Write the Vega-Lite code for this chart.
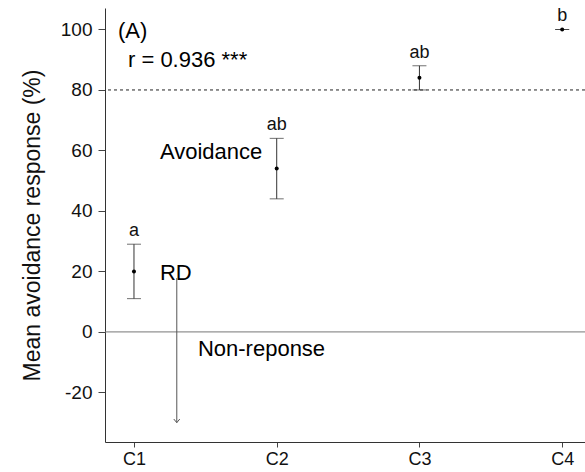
{
  "$schema": "https://vega.github.io/schema/vega-lite/v6.json",
  "autosize": "none",
  "width": 480,
  "height": 434,
  "padding": {"left": 105, "top": 8, "right": 0, "bottom": 30},
  "background": "white",
  "config": {
    "view": {"stroke": null},
    "font": "Liberation Sans",
    "axis": {"grid": false, "domainColor": "#333", "tickColor": "#444", "labelColor": "#111", "titleColor": "#111", "labelFont": "Liberation Sans", "titleFont": "Liberation Sans"}
  },
  "datasets": {
    "groups": [
      {"cond": 1, "mean": 20, "lo": 11, "hi": 29, "letter": "a"},
      {"cond": 2, "mean": 54, "lo": 44, "hi": 64, "letter": "ab"},
      {"cond": 3, "mean": 84, "lo": 80, "hi": 88, "letter": "ab"},
      {"cond": 4, "mean": 100, "lo": 100, "hi": 100, "letter": "b"}
    ],
    "notes": [
      {"x": 0.888, "y": 99.5, "label": "(A)"},
      {"x": 0.958, "y": 89.9, "label": "r = 0.936 ***"},
      {"x": 1.182, "y": 59.5, "label": "Avoidance"},
      {"x": 1.182, "y": 19.5, "label": "RD"},
      {"x": 1.448, "y": -5.6, "label": "Non-reponse"}
    ],
    "arrow": [
      {"x": 1.30, "y": 17.8, "y2": -30}
    ],
    "refs": [
      {"yval": 0, "kind": "zero"},
      {"yval": 80, "kind": "threshold"}
    ]
  },
  "layer": [
    {
      "data": {"name": "refs"},
      "transform": [{"filter": "datum.kind == 'zero'"}],
      "mark": {"type": "rule", "color": "#777", "strokeWidth": 1},
      "encoding": {"y": {"field": "yval", "type": "quantitative"}}
    },
    {
      "data": {"name": "refs"},
      "transform": [{"filter": "datum.kind == 'threshold'"}],
      "mark": {"type": "rule", "color": "#222", "strokeWidth": 1, "strokeDash": [3, 3]},
      "encoding": {"y": {"field": "yval", "type": "quantitative"}}
    },
    {
      "data": {"name": "groups"},
      "mark": {"type": "rule", "color": "#333", "strokeWidth": 1},
      "encoding": {
        "x": {"field": "cond", "type": "quantitative",
          "scale": {"domain": [0.797, 4.16], "nice": false, "zero": false},
          "axis": {"values": [1, 2, 3, 4], "labelExpr": "'C' + datum.value", "title": null, "tickSize": 5, "labelFontSize": 18, "labelPadding": 3}},
        "y": {"field": "lo", "type": "quantitative",
          "scale": {"domain": [-36.4, 107.1], "nice": false, "zero": false},
          "axis": {"values": [-20, 0, 20, 40, 60, 80, 100], "labelExpr": "datum.value < 0 ? '-' + abs(datum.value) : '' + datum.value", "title": "Mean avoidance response (%)", "titleFontSize": 23, "titleFontWeight": "normal", "titlePadding": 16, "tickSize": 7, "labelPadding": 6, "labelFontSize": 19}},
        "y2": {"field": "hi"}
      }
    },
    {
      "data": {"name": "groups"},
      "mark": {"type": "tick", "orient": "horizontal", "color": "#333", "size": 14, "thickness": 1},
      "encoding": {"x": {"field": "cond", "type": "quantitative"}, "y": {"field": "lo", "type": "quantitative"}}
    },
    {
      "data": {"name": "groups"},
      "mark": {"type": "tick", "orient": "horizontal", "color": "#333", "size": 14, "thickness": 1},
      "encoding": {"x": {"field": "cond", "type": "quantitative"}, "y": {"field": "hi", "type": "quantitative"}}
    },
    {
      "data": {"name": "groups"},
      "mark": {"type": "point", "filled": true, "color": "#000", "size": 16, "opacity": 1},
      "encoding": {"x": {"field": "cond", "type": "quantitative"}, "y": {"field": "mean", "type": "quantitative"}}
    },
    {
      "data": {"name": "groups"},
      "mark": {"type": "text", "fontSize": 18, "color": "#111", "baseline": "middle", "align": "center", "dy": -13},
      "encoding": {"x": {"field": "cond", "type": "quantitative"}, "y": {"field": "hi", "type": "quantitative"}, "text": {"field": "letter"}}
    },
    {
      "data": {"name": "notes"},
      "mark": {"type": "text", "fontSize": 22, "color": "#000", "baseline": "middle", "align": "left"},
      "encoding": {"x": {"field": "x", "type": "quantitative"}, "y": {"field": "y", "type": "quantitative"}, "text": {"field": "label"}}
    },
    {
      "data": {"name": "arrow"},
      "mark": {"type": "rule", "color": "#555", "strokeWidth": 1},
      "encoding": {"x": {"field": "x", "type": "quantitative"}, "y": {"field": "y", "type": "quantitative"}, "y2": {"field": "y2"}}
    },
    {
      "data": {"name": "arrow"},
      "mark": {"type": "point", "shape": "M-1,-1.2L0,0L1,-1.2", "filled": false, "color": "#555", "strokeWidth": 1, "size": 36, "opacity": 1},
      "encoding": {"x": {"field": "x", "type": "quantitative"}, "y": {"field": "y2", "type": "quantitative"}}
    }
  ]
}
